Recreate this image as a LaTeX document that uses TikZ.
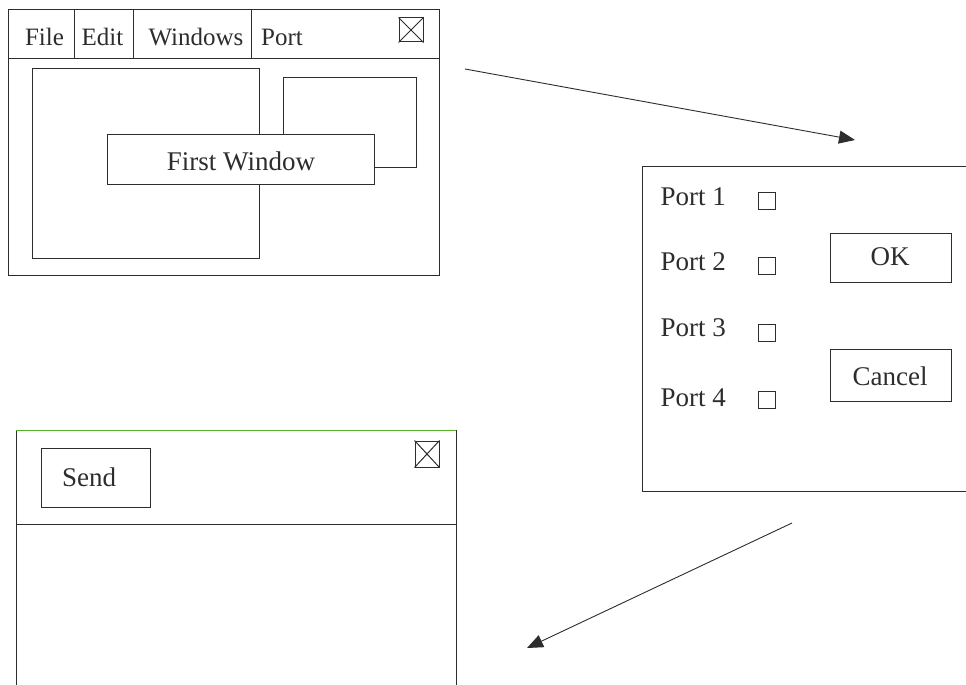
\documentclass[tikz,border=0pt]{standalone}
\usepackage{fontspec}
\setmainfont{Liberation Serif}
\usetikzlibrary{arrows.meta}
\definecolor{ink}{RGB}{45,45,45}
\definecolor{edgegreen}{RGB}{90,175,40}
\begin{document}
\begin{tikzpicture}[x=1pt,y=-1pt,line width=1pt,
  frame/.style={draw=ink},
  boxnode/.style={draw=ink,fill=white,inner sep=0pt},
  txt/.style={font=\fontsize{27}{30}\selectfont,text=ink,anchor=base,inner sep=0pt},
  menutxt/.style={font=\fontsize{25}{28}\selectfont,text=ink,anchor=base,inner sep=0pt},
  closebox/.style={draw=ink,minimum size=24pt,inner sep=0pt},
  flow/.style={draw=ink,line width=0.9pt,-{Triangle[length=16pt,width=13pt]}}]
\useasboundingbox (0,0) rectangle (966,685);
\clip (0,0) rectangle (966,685);
\fill[white] (0,0) rectangle (966,685);

% ---- main window with menu bar ----
\draw[frame] (8,10) rectangle (439,275);
\draw[frame] (8,59) -- (439,59);
\draw[frame] (74,10) -- (74,59);
\draw[frame] (133,10) -- (133,59);
\draw[frame] (251,10) -- (251,59);
\node[menutxt] (mfile) at (44.5,46) {File};
\node[menutxt] (medit) at (102.5,46) {Edit};
\node[menutxt] (mwin)  at (196,46) {Windows};
\node[menutxt] (mport) at (282,46) {Port};
\node[closebox] (close1) at (411,30) {};
\draw[ink] (close1.north west) -- (close1.south east)
           (close1.north east) -- (close1.south west);

% child windows
\draw[frame] (32,69) rectangle (259,258);
\draw[frame] (283,77) rectangle (416,167);
\node[boxnode,minimum width=267pt,minimum height=50pt] (first) at (240.5,159) {};
\node[txt] (firstt) at (241,170) {First Window};

% ---- port dialog ----
\draw[frame] (980,166) -- (642,166) -- (642,491) -- (980,491);
\foreach \i/\yb/\yc in {1/205/200.5, 2/270/266, 3/336/333, 4/406/399.5}{
  \node[txt,anchor=base west] (port\i) at (660,\yb) {Port \i};
  \node[draw=ink,minimum size=17pt,inner sep=0pt] (chk\i) at (767,\yc) {};
}
\node[boxnode,minimum width=121pt,minimum height=49pt] (ok) at (890.5,257.5) {};
\node[txt] (okt) at (890,265) {OK};
\node[boxnode,minimum width=121pt,minimum height=52pt] (cancel) at (890.5,375) {};
\node[txt] (cancelt) at (890,385) {Cancel};

% ---- send window ----
\draw[frame] (16,700) -- (16,430);
\draw[draw=edgegreen] (16,430) -- (456,430);
\draw[frame] (456,430) -- (456,700);
\draw[frame] (16,524) -- (456,524);
\node[boxnode,minimum width=109pt,minimum height=59pt] (send) at (95.5,477.5) {};
\node[txt] (sendt) at (89,486) {Send};
\node[closebox,minimum height=26pt] (close3) at (427,454) {};
\draw[ink] (close3.north west) -- (close3.south east)
           (close3.north east) -- (close3.south west);

% ---- transitions ----
\coordinate (a1s) at (465,69);
\coordinate (a1e) at (855,140);
\coordinate (a2s) at (792,523);
\coordinate (a2e) at (527,648);
\draw[flow] (a1s) -- (a1e);
\draw[flow] (a2s) -- (a2e);
\end{tikzpicture}
\end{document}
